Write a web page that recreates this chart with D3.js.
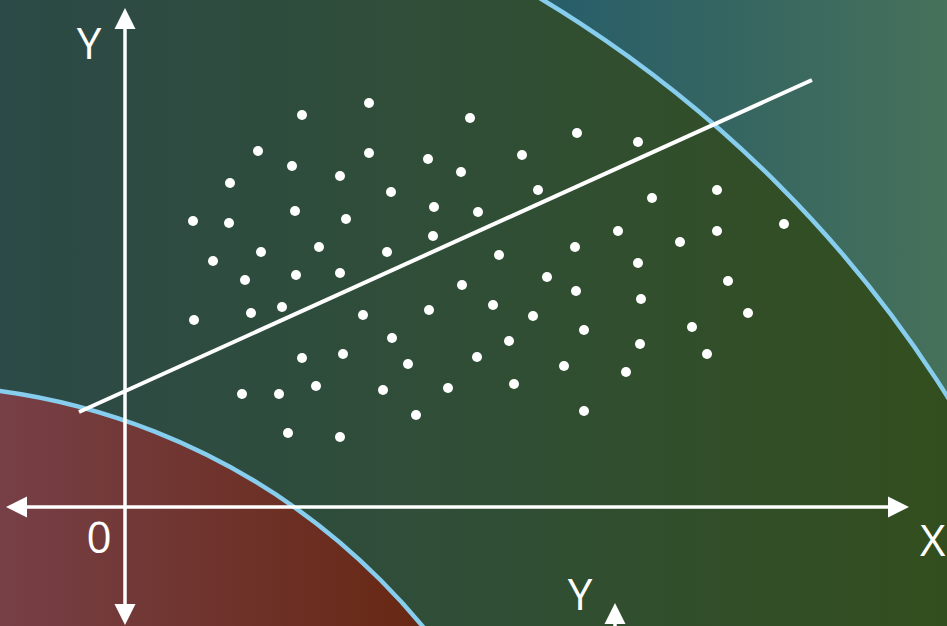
<!DOCTYPE html>
<html><head><meta charset="utf-8">
<script src="https://cdn.jsdelivr.net/npm/d3@7"></script>
<style>html,body{margin:0;padding:0;overflow:hidden;background:#2e4b40}</style>
</head><body>
<script>
// ---- data (chart units) ----
const pointX = [17.7,24.4,34.5,13.3,16.7,24.4,30.3,33.6,39.7,45.2,51.3,10.5,21.5,26.6,41.3,52.7,59.2,6.8,10.4,17.0,22.1,30.9,35.3,65.9,8.8,13.6,19.4,26.2,30.8,37.4,45.0,49.3,55.5,59.2,12.0,17.1,21.5,33.7,42.2,45.1,51.3,60.3,6.9,12.6,15.7,23.8,30.4,36.8,40.8,45.9,51.6,62.3,56.7,26.7,38.4,51.5,17.7,21.8,28.3,35.2,43.9,50.1,58.2,11.7,15.4,19.1,25.8,32.3,38.9,29.1,45.9,16.3,21.5];
const pointY = [39.2,40.4,38.9,35.6,34.1,35.4,34.8,33.5,35.2,37.4,36.5,32.4,33.1,31.5,31.7,30.9,31.7,28.6,28.4,29.6,28.8,30.0,29.5,28.3,24.6,25.5,26.0,25.5,27.1,25.2,26.0,27.6,26.5,27.6,22.7,23.2,23.4,22.2,23.0,21.6,24.4,22.6,18.7,19.4,20.0,19.2,19.7,20.2,19.1,17.7,20.8,19.4,18.0,16.9,16.6,16.3,14.9,15.3,14.3,15.0,14.1,13.5,15.3,11.3,11.3,12.1,11.7,11.9,12.3,9.2,9.6,7.4,7.0];
const trendX = [-4.6, 68.7];
const trendY = [9.5, 42.7];
const zoneCenter = [-21.5, -54.3];
const zoneRadii = [122.6, 66.5];
const xAxisExtent = [-11.9, 78.4];
const yAxisExtent = [-11.8, 49.9];
const axisLabels = ["Y", "0", "X", "Y"];

const W = 947, H = 626;
const x = d3.scaleLinear().domain([0, 78]).range([125, 905]);
const y = d3.scaleLinear().domain([0, 48]).range([507, 27]);
const unit = x(1) - x(0);

const svg = d3.select("body").append("svg").attr("width", W).attr("height", H);
const defs = svg.append("defs");
function grad(id, x1, x2, stops) {
  const g = defs.append("linearGradient").attr("id", id)
    .attr("gradientUnits", "userSpaceOnUse").attr("x1", x1).attr("x2", x2).attr("y1", 0).attr("y2", 0);
  stops.forEach(s => g.append("stop").attr("offset", s[0]).attr("stop-color", s[1]));
}
grad("outer", 530, 947, [[0, "#265d6b"], [0.5, "#366661"], [1, "#46715a"]]);
grad("mid", 0, 947, [[0, "#2c4a47"], [0.5, "#304e36"], [1, "#334e1e"]]);
grad("inner", 0, 430, [[0, "#774047"], [1, "#672712"]]);
const arrow = (id) => defs.append("marker").attr("id", id).attr("viewBox", "0 0 10 10")
  .attr("refX", 0).attr("refY", 5).attr("markerWidth", 21).attr("markerHeight", 23)
  .attr("markerUnits", "userSpaceOnUse").attr("orient", "auto-start-reverse")
  .append("path").attr("d", "M0,0L10,5L0,10Z").attr("fill", "#fff");
arrow("arr");

svg.append("rect").attr("width", W).attr("height", H).attr("fill", "url(#outer)");
const fills = ["url(#mid)", "url(#inner)"];
zoneRadii.forEach((r, i) => {
  svg.append("circle").attr("cx", x(zoneCenter[0])).attr("cy", y(zoneCenter[1]))
    .attr("r", r * unit).attr("fill", fills[i]).attr("stroke", "#87cdee").attr("stroke-width", 4.5);
});

// axes
svg.append("line").attr("x1", x(xAxisExtent[0]) + 21).attr("x2", x(xAxisExtent[1]) - 21)
  .attr("y1", y(0)).attr("y2", y(0)).attr("stroke", "#fff").attr("stroke-width", 3.5)
  .attr("marker-start", "url(#arr)").attr("marker-end", "url(#arr)");
svg.append("line").attr("x1", x(0)).attr("x2", x(0))
  .attr("y1", y(yAxisExtent[1]) + 21).attr("y2", y(yAxisExtent[0]) - 21).attr("stroke", "#fff").attr("stroke-width", 3.5)
  .attr("marker-start", "url(#arr)").attr("marker-end", "url(#arr)");
// partial second axis at bottom
svg.append("line").attr("x1", x(49)).attr("x2", x(49)).attr("y1", y(-16)).attr("y2", y(-9.6) + 21)
  .attr("stroke", "#fff").attr("stroke-width", 3.5).attr("marker-end", "url(#arr)");

// trend line
svg.append("line").attr("x1", x(trendX[0])).attr("y1", y(trendY[0]))
  .attr("x2", x(trendX[1])).attr("y2", y(trendY[1])).attr("stroke", "#fff").attr("stroke-width", 4);

// points
svg.append("g").selectAll("circle").data(pointX).join("circle")
  .attr("cx", d => x(d)).attr("cy", (d, i) => y(pointY[i])).attr("r", 5).attr("fill", "#fff");

// labels
const lab = [[-3.6, 44.8, "middle"], [-2.6, -4.6, "middle"], [79.5, -4.9, "start"], [45.5, -10.3, "middle"]];
lab.forEach((l, i) => {
  svg.append("text").attr("x", x(l[0])).attr("y", y(l[1])).attr("text-anchor", l[2])
    .attr("font-family", "'Open Sans', sans-serif").attr("font-size", 44).attr("fill", "#fff").text(axisLabels[i]);
});
</script>
</body></html>
